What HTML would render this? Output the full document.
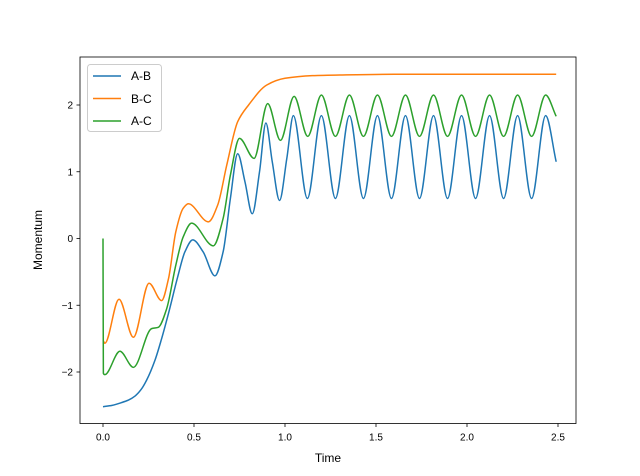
<!DOCTYPE html>
<html><head><meta charset="utf-8"><style>
body{margin:0;background:#fff}
svg{display:block;font-family:"Liberation Sans","DejaVu Sans",sans-serif}
</style></head><body>
<svg id="chart" width="640" height="476" viewBox="0 0 640 476">
<rect x="0" y="0" width="640" height="476" fill="#fff"/>
<g id="plot"></g>
<g id="axes"></g>
<text x="328" y="462" font-size="12" text-anchor="middle">Time</text>
<text x="0" y="0" font-size="12" text-anchor="middle" transform="translate(42,240) rotate(-90)">Momentum</text>
<g>
<rect x="87.5" y="64.5" width="74" height="67" rx="3" fill="#fff" fill-opacity="0.8" stroke="#ccc"/>
<line x1="93" y1="76" x2="121" y2="76" stroke="#1f77b4" stroke-width="1.5"/>
<text x="131" y="80" font-size="12">A-B</text>
<line x1="93" y1="98.5" x2="121" y2="98.5" stroke="#ff7f0e" stroke-width="1.5"/>
<text x="131" y="103" font-size="12">B-C</text>
<line x1="93" y1="121" x2="121" y2="121" stroke="#2ca02c" stroke-width="1.5"/>
<text x="131" y="125" font-size="12">A-C</text>
</g>
</svg>
<script>
const xTicks=[0,0.5,1,1.5,2,2.5];
const xTickLabels=["0.0","0.5","1.0","1.5","2.0","2.5"];
const yTicks=[-2,-1,0,1,2];
const yTickLabels=["\u22122","\u22121","0","1","2"];
const tAB=[0,0.05,0.1,0.14,0.176,0.21,0.24,0.286,0.32,0.36,0.41,0.45,0.493,0.55,0.615,0.66,0.70,0.74,0.78,0.82,0.86,0.895,0.93,0.97,1.01,1.046,1.123,1.200,1.277,1.354,1.431,1.508,1.585,1.662,1.739,1.816,1.893,1.970,2.047,2.124,2.201,2.278,2.355,2.432,2.49];
const vAB=[-2.52,-2.5,-2.46,-2.42,-2.36,-2.26,-2.12,-1.82,-1.52,-1.12,-0.58,-0.2,-0.02,-0.2,-0.56,-0.2,0.6,1.27,0.85,0.37,1.0,1.73,1.15,0.57,1.2,1.84,0.6,1.84,0.6,1.84,0.6,1.84,0.6,1.84,0.6,1.84,0.6,1.84,0.6,1.84,0.6,1.84,0.6,1.84,1.15];
const tBC=[0,0.01,0.088,0.167,0.253,0.322,0.36,0.40,0.44,0.469,0.579,0.63,0.68,0.74,0.8,0.9,1.0,1.15,1.3,1.6,2.49];
const vBC=[-1.52,-1.57,-0.91,-1.48,-0.67,-0.93,-0.6,0.1,0.45,0.52,0.25,0.5,1.1,1.75,2.0,2.3,2.4,2.44,2.45,2.46,2.46];
const tAC=[0,0.002,0.01,0.093,0.167,0.267,0.304,0.35,0.40,0.44,0.487,0.606,0.66,0.70,0.75,0.83,0.905,0.975,1.05,1.125,1.20,1.277,1.354,1.431,1.508,1.585,1.662,1.739,1.816,1.893,1.970,2.047,2.124,2.201,2.278,2.355,2.432,2.49];
const vAC=[0,-2.02,-2.04,-1.69,-1.93,-1.35,-1.33,-1.05,-0.4,0.02,0.23,-0.11,0.3,0.95,1.5,1.2,2.02,1.47,2.13,1.53,2.15,1.53,2.15,1.53,2.15,1.53,2.15,1.53,2.15,1.53,2.15,1.53,2.15,1.53,2.15,1.53,2.15,1.83];
const NS="http://www.w3.org/2000/svg";
const L=80,R=576,T=57,B=423.5;
function xs(t){return 103+t*182;}
function ys(v){return 238.5-v*66.75;}
function path(ts,vs){
  const p=ts.map((t,i)=>[xs(t),ys(vs[i])]);
  const n=p.length;
  const d0=[];for(let i=0;i<n-1;i++){d0.push((p[i+1][1]-p[i][1])/(p[i+1][0]-p[i][0]));}
  const m=new Array(n);
  m[0]=d0[0];m[n-1]=d0[n-2];
  for(let i=1;i<n-1;i++){
    if(d0[i-1]*d0[i]<=0){m[i]=0;}
    else{
      const h0=p[i][0]-p[i-1][0],h1=p[i+1][0]-p[i][0];
      const w1=2*h1+h0,w2=h1+2*h0;
      m[i]=(w1+w2)/(w1/d0[i-1]+w2/d0[i]);
    }
  }
  let d="M"+p[0][0]+","+p[0][1];
  for(let i=0;i<n-1;i++){
    const h=(p[i+1][0]-p[i][0])/3;
    d+=" C"+(p[i][0]+h)+","+(p[i][1]+m[i]*h)+" "+(p[i+1][0]-h)+","+(p[i+1][1]-m[i+1]*h)+" "+p[i+1][0]+","+p[i+1][1];
  }
  return d;
}
const plot=document.getElementById("plot");
const series=[[tAB,vAB,"#1f77b4","series-ab"],[tBC,vBC,"#ff7f0e","series-bc"],[tAC,vAC,"#2ca02c","series-ac"]];
for(const s of series){
  const el=document.createElementNS(NS,"path");
  el.setAttribute("d",path(s[0],s[1]));
  el.setAttribute("fill","none");
  el.setAttribute("stroke",s[2]);
  el.setAttribute("stroke-width","1.5");
  el.setAttribute("stroke-linejoin","round");
  
  
  plot.appendChild(el);
}
const axes=document.getElementById("axes");
const frame=document.createElementNS(NS,"rect");
frame.setAttribute("x",L);frame.setAttribute("y",T);
frame.setAttribute("width",R-L);frame.setAttribute("height",B-T);
frame.setAttribute("fill","none");frame.setAttribute("stroke","#000");frame.setAttribute("stroke-width","0.8");


axes.appendChild(frame);
xTicks.forEach((t,i)=>{
  const ln=document.createElementNS(NS,"line");
  ln.setAttribute("x1",xs(t));ln.setAttribute("x2",xs(t));
  ln.setAttribute("y1",B);ln.setAttribute("y2",B+3.5);
  ln.setAttribute("stroke","#000");ln.setAttribute("stroke-width","0.8");
  
  
  axes.appendChild(ln);
  const tx=document.createElementNS(NS,"text");
  tx.setAttribute("x",xs(t));tx.setAttribute("y",B+17);
  tx.setAttribute("font-size","10");tx.setAttribute("text-anchor","middle");
  tx.textContent=xTickLabels[i];
  
  
  axes.appendChild(tx);
});
yTicks.forEach((v,i)=>{
  const ln=document.createElementNS(NS,"line");
  ln.setAttribute("x1",L-3.5);ln.setAttribute("x2",L);
  ln.setAttribute("y1",ys(v));ln.setAttribute("y2",ys(v));
  ln.setAttribute("stroke","#000");ln.setAttribute("stroke-width","0.8");
  
  
  axes.appendChild(ln);
  const tx=document.createElementNS(NS,"text");
  tx.setAttribute("x",L-7);tx.setAttribute("y",ys(v)+3.5);
  tx.setAttribute("font-size","10");tx.setAttribute("text-anchor","end");
  tx.textContent=yTickLabels[i];
  
  
  axes.appendChild(tx);
});
</script>
</body></html>
